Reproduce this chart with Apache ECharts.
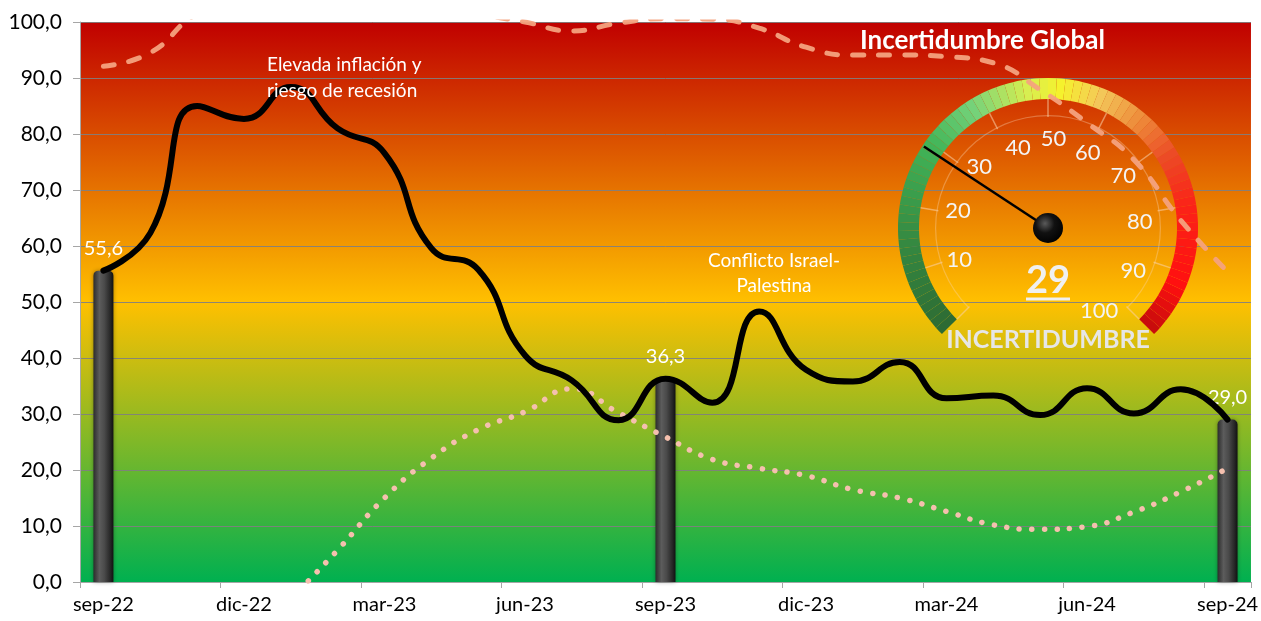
<!DOCTYPE html>
<html>
<head>
<meta charset="utf-8">
<script src="https://cdn.jsdelivr.net/npm/echarts/dist/echarts.min.js"></script>
<style>
html, body { margin: 0; padding: 0; background: #fff; }
#main { width: 1261px; height: 621px; }
</style>
</head>
<body>
<div id="main"></div>
<script>
// meses (eje x)
var months = ['sep-22', 'oct-22', 'nov-22', 'dic-22', 'ene-23', 'feb-23', 'mar-23', 'abr-23', 'may-23',
    'jun-23', 'jul-23', 'ago-23', 'sep-23', 'oct-23', 'nov-23', 'dic-23', 'ene-24', 'feb-24', 'mar-24',
    'abr-24', 'may-24', 'jun-24', 'jul-24', 'ago-24', 'sep-24'];

// indice de incertidumbre (linea negra)
var indice = [55.6, 62.3, 85.0, 82.7, 88.4, 81.0, 76.6, 59.6, 55.8, 40.5, 36.0, 28.9, 36.3,
    32.0, 48.3, 37.9, 35.8, 39.3, 32.8, 33.3, 29.8, 34.6, 30.1, 34.4, 29.0];

// columnas anuales
var barras = [55.6, '-', '-', '-', '-', '-', '-', '-', '-', '-', '-', '-', 36.3,
    '-', '-', '-', '-', '-', '-', '-', '-', '-', '-', '-', 29.0];

// linea punteada
var punteada = ['-', '-', '-', '-', -3, 5.7, 15.0, 22.1, 27.2, 30.4, 34.5, 30.2, 25.9,
    21.9, 20.3, 19.0, 16.5, 15.0, 12.6, 10.2, 9.4, 9.9, 12.5, 16.1, 20.3];

// linea discontinua
var discontinua = [92.1, 94.5, 101.5, 104, 105, 105.5, 105, 103.5, 101.5, 100.0, 98.4, 99.8, 100.6,
    100.5, 98.9, 95.5, 94.1, 94.1, 93.8, 92.7, 87.9, 82.0, 75.4, 64.6, 55.4];

var gaugeValue = 29;

var font = 'Lato, "Open Sans", sans-serif';

// colores del arco del velocimetro
var arcStops = [[0, '#2d6a33'], [0.15, '#358a42'], [0.3, '#42b558'], [0.38, '#74d27a'],
    [0.47, '#d8ee50'], [0.52, '#f6f22c'], [0.58, '#f3c85a'], [0.65, '#ee8b3a'],
    [0.72, '#ec4a26'], [0.8, '#fb2318'], [0.92, '#ff1010'], [1, '#c40c0c']];

function hex2rgb(h) {
    return [parseInt(h.substr(1, 2), 16), parseInt(h.substr(3, 2), 16), parseInt(h.substr(5, 2), 16)];
}
function colorAt(f) {
    for (var i = 1; i < arcStops.length; i++) {
        if (f <= arcStops[i][0]) {
            var a = arcStops[i - 1], b = arcStops[i];
            var t = (f - a[0]) / (b[0] - a[0]);
            var ca = hex2rgb(a[1]), cb = hex2rgb(b[1]);
            return 'rgb(' + ca.map(function (c, k) { return Math.round(c + (cb[k] - c) * t); }).join(',') + ')';
        }
    }
    return arcStops[arcStops.length - 1][1];
}
var arcColors = [];
for (var k = 1; k <= 80; k++) {
    arcColors.push([k / 80, colorAt((k - 0.5) / 80)]);
}

function coma(v) {
    return Number(v).toFixed(1).replace('.', ',');
}

var hidden = { show: false };

var myChart = echarts.init(document.getElementById('main'));

var option = {
    animation: false,
    title: {
        text: 'Incertidumbre Global',
        left: 855,
        top: 23,
        textStyle: { color: '#fff', fontSize: 26, fontWeight: 'bold', fontFamily: font }
    },
    grid: {
        left: 80, right: 6, top: 22, bottom: 39,
        show: true,
        borderWidth: 0,
        backgroundColor: new echarts.graphic.LinearGradient(0, 0, 0, 1, [
            { offset: 0, color: '#c00000' },
            { offset: 0.5, color: '#ffc000' },
            { offset: 1, color: '#00b050' }
        ])
    },
    xAxis: {
        type: 'category',
        data: months,
        boundaryGap: true,
        axisLine: { lineStyle: { color: '#a6a6a6', width: 1 } },
        axisTick: { show: true, interval: 2, length: 6, lineStyle: { color: '#a6a6a6' } },
        axisLabel: { interval: 2, color: '#000', fontSize: 20, fontFamily: font, margin: 13 },
        splitLine: { show: false }
    },
    yAxis: {
        type: 'value',
        min: 0, max: 100, interval: 10,
        axisLine: { show: true, lineStyle: { color: '#a6a6a6' } },
        axisTick: { show: true, length: 7, lineStyle: { color: '#a6a6a6' } },
        axisLabel: { color: '#000', fontSize: 21, fontFamily: font, margin: 18, formatter: coma },
        splitLine: { lineStyle: { color: 'rgba(128,128,128,0.9)', width: 1 } }
    },
    graphic: [
        {
            type: 'text', x: 267, y: 52, z: 10,
            style: { text: 'Elevada inflación y\nriesgo de recesión', fill: '#fff', font: '19px ' + font, lineHeight: 26 }
        },
        {
            type: 'text', x: 774, y: 248, z: 10,
            style: { text: 'Conflicto Israel-\nPalestina', fill: '#fff', font: '19px ' + font, lineHeight: 25, align: 'center' }
        }
    ],
    series: [
        {
            name: 'discontinua',
            type: 'line',
            data: discontinua,
            smooth: 0.5,
            symbol: 'none',
            z: 5,
            lineStyle: { color: '#f4a27e', width: 5, type: [11, 15], cap: 'round', opacity: 0.95 }
        },
        {
            name: 'barras',
            type: 'bar',
            data: barras,
            barWidth: 20,
            z: 2,
            itemStyle: {
                borderRadius: [5, 5, 0, 0],
                color: new echarts.graphic.LinearGradient(0, 0, 1, 0, [
                    { offset: 0, color: '#2c2c2c' },
                    { offset: 0.3, color: '#5c5c5c' },
                    { offset: 0.55, color: '#4a4a4a' },
                    { offset: 0.85, color: '#262626' },
                    { offset: 1, color: '#111' }
                ]),
                shadowColor: 'rgba(0,0,0,0.35)',
                shadowBlur: 4
            },
            label: {
                show: true, position: 'top', distance: 12,
                color: '#fff', fontSize: 20, fontFamily: font,
                formatter: function (p) { return coma(p.value); }
            }
        },
        {
            name: 'punteada',
            type: 'line',
            data: punteada,
            smooth: 0.5,
            symbol: 'none',
            z: 3,
            lineStyle: { color: '#f5c0ae', width: 5.5, type: [0.1, 12.5], cap: 'round' }
        },
        {
            name: 'indice',
            type: 'line',
            data: indice,
            smooth: 0.5,
            symbol: 'none',
            z: 4,
            lineStyle: { color: '#000', width: 6, join: 'round', cap: 'round' }
        },
        {
            // circulo interior tenue
            type: 'gauge',
            center: [1048, 228],
            radius: 113,
            startAngle: 225, endAngle: -45,
            z: 2,
            axisLine: { lineStyle: { width: 1.2, color: [[1, 'rgba(250,215,180,0.35)']] } },
            splitLine: hidden, axisTick: hidden, axisLabel: hidden, pointer: hidden,
            anchor: hidden, title: hidden, detail: hidden,
            data: [{ value: 0 }]
        },
        {
            // etiquetas de la escala, algo desplazadas como en el original
            type: 'gauge',
            center: [1048, 233],
            radius: 150,
            startAngle: 222, endAngle: -48,
            min: 0, max: 100, splitNumber: 10,
            z: 3,
            axisLine: { lineStyle: { width: 21, color: [[1, 'rgba(0,0,0,0)']] } },
            splitLine: { show: false, distance: 0, length: 18 },
            axisTick: hidden,
            axisLabel: {
                distance: 27, color: '#f4f4f4', fontSize: 22, fontFamily: font,
                formatter: function (v) { return v === 0 ? '' : v; }
            },
            pointer: hidden, anchor: hidden, title: hidden, detail: hidden,
            data: [{ value: 0 }]
        },
        {
            type: 'gauge',
            center: [1048, 228],
            radius: 150,
            startAngle: 225, endAngle: -45,
            min: 0, max: 100, splitNumber: 10,
            z: 3,
            axisLine: { lineStyle: { width: 21, color: arcColors } },
            splitLine: { distance: 0, length: 18, lineStyle: { color: 'rgba(250,210,170,0.55)', width: 1.5 } },
            axisTick: hidden,
            axisLabel: hidden,
            pointer: { icon: 'rect', length: '99%', width: 2.5, itemStyle: { color: '#000' } },
            anchor: {
                show: true, showAbove: true, size: 30, icon: 'circle',
                itemStyle: {
                    color: new echarts.graphic.RadialGradient(0.4, 0.35, 0.7, [
                        { offset: 0, color: '#5a5a5a' },
                        { offset: 0.45, color: '#111' },
                        { offset: 1, color: '#000' }
                    ])
                }
            },
            title: { offsetCenter: [0, 112], color: '#e6e6e6', fontSize: 25, fontWeight: 'bold', fontFamily: font },
            detail: {
                offsetCenter: [0, 54],
                formatter: function (v) { return '{v|' + v + '}\n{u|}'; },
                rich: {
                    v: { fontSize: 38, fontWeight: 'bold', color: '#f0f0f0', fontFamily: font, lineHeight: 34 },
                    u: { width: 44, height: 3, lineHeight: 3, backgroundColor: '#f0f0f0' }
                }
            },
            data: [{ value: gaugeValue, name: 'INCERTIDUMBRE' }]
        }
    ]
};

myChart.setOption(option);
</script>
</body>
</html>
